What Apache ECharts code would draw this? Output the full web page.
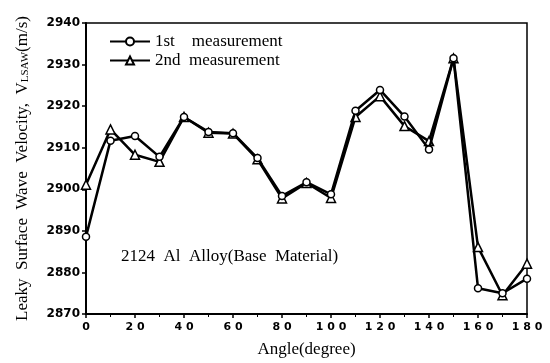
<!DOCTYPE html>
<html>
<head>
<meta charset="utf-8">
<script src="https://cdn.jsdelivr.net/npm/echarts@6/dist/echarts.min.js"></script>
<style>
  html, body { margin: 0; padding: 0; background: #fff; }
  #chart { width: 550px; height: 363px; }
</style>
</head>
<body>
<div id="chart"></div>
<script>
// angle in degrees
const angles = [0, 10, 20, 30, 40, 50, 60, 70, 80, 90, 100, 110, 120, 130, 140, 150, 160, 170, 180];
// LSAW velocity (m/s)
const first = [2888.6, 2911.7, 2912.8, 2907.8, 2917.4, 2913.8, 2913.5, 2907.5, 2898.4, 2901.7, 2898.8, 2918.9, 2923.9, 2917.5, 2909.6, 2931.5, 2876.2, 2875.0, 2878.5];
const second = [2901.1, 2914.4, 2908.3, 2906.6, 2917.4, 2913.6, 2913.4, 2907.2, 2897.8, 2901.5, 2897.9, 2917.4, 2922.4, 2915.2, 2911.6, 2931.5, 2886.1, 2874.5, 2882.1];
const yTicks = [2870, 2880, 2890, 2900, 2910, 2920, 2930, 2940];

const serif = '"Liberation Serif", "DejaVu Serif", serif';
const boldSans = '"DejaVu Sans", "Liberation Sans", sans-serif';

const chart = echarts.init(document.getElementById('chart'));

const toPairs = arr => angles.map((a, i) => [a, arr[i]]);

chart.setOption({
  animation: false,
  backgroundColor: '#fff',
  grid: {
    left: 86,
    right: 23,
    top: 23,
    bottom: 46,
    show: true,
    borderColor: '#000',
    borderWidth: 1.5
  },
  legend: {
    left: 104,
    top: 28,
    orient: 'vertical',
    itemWidth: 40,
    itemHeight: 10,
    itemGap: 2,
    textStyle: { fontFamily: serif, fontSize: 17, color: '#000' },
    data: ['1st    measurement', '2nd  measurement']
  },
  xAxis: {
    type: 'value',
    min: 0,
    max: 180,
    interval: 20,
    name: 'Angle(degree)',
    nameLocation: 'middle',
    nameGap: 27,
    nameTextStyle: { fontFamily: serif, fontSize: 17, color: '#000' },
    axisLine: { lineStyle: { color: '#000', width: 2 } },
    axisTick: { show: true, length: 4, lineStyle: { color: '#000', width: 1.5 } },
    minorTick: { show: true, splitNumber: 2, length: 3, lineStyle: { color: '#000' } },
    axisLabel: {
      fontFamily: boldSans, fontWeight: 'bold', fontSize: 11, color: '#000', margin: 8,
      formatter: v => String(v).split('').join(' ')
    },
    splitLine: { show: false }
  },
  yAxis: {
    type: 'value',
    min: yTicks[0],
    max: yTicks[yTicks.length - 1],
    interval: 10,
    name: '{a|Leaky  Surface  Wave  Velocity,  V}{s|LSAW}{a|(m/s)}',
    nameLocation: 'middle',
    nameGap: 55,
    nameTextStyle: {
      rich: {
        a: { fontFamily: serif, fontSize: 17, color: '#000' },
        s: { fontFamily: serif, fontSize: 11, color: '#000', padding: [6, 0, 0, 0] }
      }
    },
    axisLine: { show: true, lineStyle: { color: '#000', width: 2 } },
    axisTick: { show: true, length: 4, lineStyle: { color: '#000', width: 1.5 } },
    axisLabel: {
      fontFamily: boldSans, fontWeight: 'bold', fontSize: 12, color: '#000', margin: 6,
      formatter: v => String(v)
    },
    splitLine: { show: false }
  },
  series: [
    {
      name: '1st    measurement',
      type: 'line',
      data: toPairs(first),
      symbol: 'circle',
      symbolSize: 7,
      showAllSymbol: true,
      lineStyle: { color: '#000', width: 2.5 },
      itemStyle: { color: '#fff', borderColor: '#000', borderWidth: 1.5 },
      z: 3
    },
    {
      name: '2nd  measurement',
      type: 'line',
      data: toPairs(second),
      symbol: 'triangle',
      symbolSize: 9,
      showAllSymbol: true,
      lineStyle: { color: '#000', width: 2.5 },
      itemStyle: { color: '#fff', borderColor: '#000', borderWidth: 1.5 },
      z: 2
    }
  ],
  graphic: [
    {
      type: 'text',
      left: 121,
      top: 248,
      style: {
        text: '2124  Al  Alloy(Base  Material)',
        font: '17px ' + serif,
        fill: '#000'
      }
    }
  ]
});
</script>
</body>
</html>
